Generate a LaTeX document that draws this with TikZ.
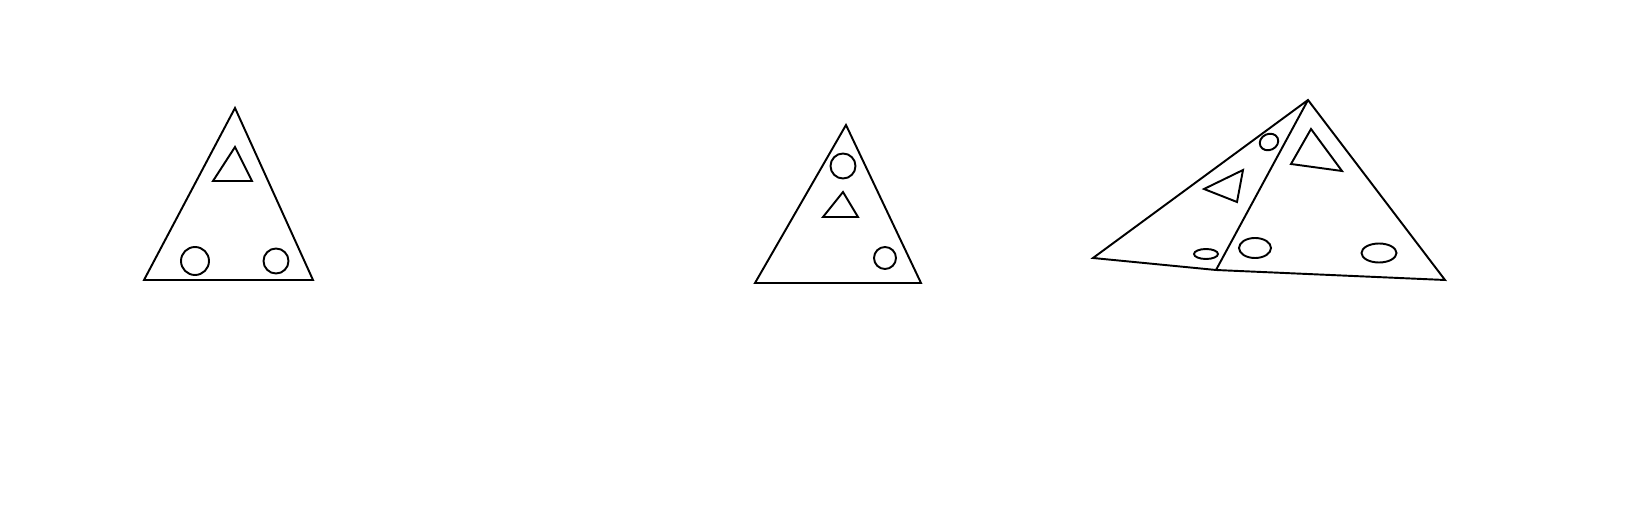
\documentclass[tikz,border=0pt]{standalone}
\usepackage{tikz}
\usetikzlibrary{positioning}

\tikzset{
  outline/.style={line width=1.1pt, line join=miter},
  piece/.style={line width=1.1pt},
}

\begin{document}
\begin{tikzpicture}[x=0.02cm, y=-0.02cm]
\useasboundingbox (0,0) rectangle (1640,520);

% First tile
\draw[outline] (235,108) -- (144,280) -- (313,280) -- cycle;
\draw[piece] (235,147) -- (213,181) -- (252,181) -- cycle;
\draw[piece] (195,261) circle (14);
\draw[piece] (276,261) circle (12.5);

% Second tile
\draw[outline] (846,125) -- (755,283) -- (921,283) -- cycle;
\draw[piece] (843,166) circle (12.5);
\draw[piece] (843,192) -- (823,217) -- (858,217) -- cycle;
\draw[piece] (885,258) circle (11);

% Combined tile
\draw[outline] (1308,100) -- (1093,258) -- (1216,270) -- (1445,280) -- cycle;
\draw[outline] (1308,100) -- (1216,270);
\draw[piece, rotate around={25:(1269,142)}] (1269,142) ellipse (9.5 and 8);
\draw[piece] (1204,189) -- (1243,170) -- (1237,202) -- cycle;
\draw[piece] (1311,129) -- (1291,164) -- (1342,171) -- cycle;
\draw[piece] (1206,254) ellipse (12 and 5);
\draw[piece] (1255,248) ellipse (16 and 10);
\draw[piece] (1379,253) ellipse (17.5 and 9.5);

\end{tikzpicture}
\end{document}
